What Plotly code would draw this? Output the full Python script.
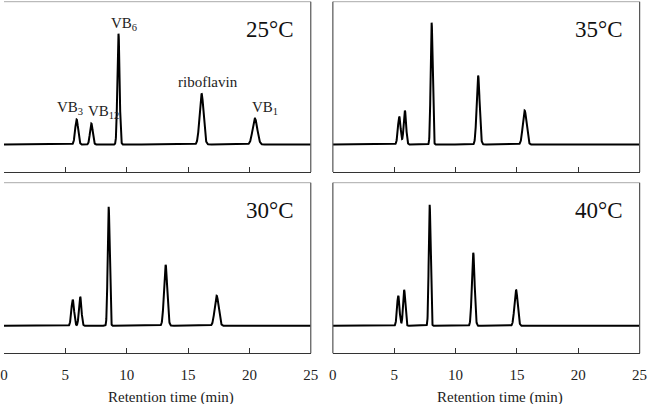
import numpy as np
import plotly.graph_objects as go

# ---- data ----
temps = ["25°C", "35°C", "30°C", "40°C"]
compounds = ["VB3", "VB12", "VB6", "riboflavin", "VB1"]

rt_25 = [5.92, 7.12, 9.33, 16.10, 20.45]
h_25 = [25, 21, 111, 51, 26]
w_25 = [0.12, 0.11, 0.09, 0.16, 0.19]

rt_35 = [5.41, 5.87, 8.05, 11.84, 15.63]
h_35 = [28, 34, 122, 69, 34]
w_35 = [0.11, 0.10, 0.08, 0.12, 0.15]

rt_30 = [5.60, 6.21, 8.53, 13.17, 17.33]
h_30 = [26, 29, 119, 61, 30]
w_30 = [0.11, 0.10, 0.08, 0.13, 0.16]

rt_40 = [5.33, 5.81, 7.89, 11.44, 14.93]
h_40 = [30, 36, 121, 73, 36]
w_40 = [0.10, 0.09, 0.075, 0.11, 0.13]

x_ticks = [0, 5, 10, 15, 20, 25]

panels = [
    (rt_25, h_25, w_25, "25°C"),
    (rt_35, h_35, w_35, "35°C"),
    (rt_30, h_30, w_30, "30°C"),
    (rt_40, h_40, w_40, "40°C"),
]

W, H = 654, 404
xdoms = [[0.0, 312.5 / W], [335 / W, 647.5 / W]]
ydoms = [[1 - 172 / H, 1 - 1.7 / H], [1 - 353.3 / H, 1 - 182.7 / H]]
yrange = [-27.5, 143]

t = np.linspace(0, 25, 2501)

fig = go.Figure()
layout = dict(width=W, height=H, margin=dict(l=0, r=0, t=0, b=0),
              paper_bgcolor="white", plot_bgcolor="white", showlegend=False,
              font=dict(family="Liberation Serif", color="#222"))
annotations = []
shapes = []
serif = "Liberation Serif"

for i, (rt, hh, ww, label) in enumerate(panels):
    row, col = divmod(i, 2)
    n = i + 1
    xa = "x" if n == 1 else f"x{n}"
    ya = "y" if n == 1 else f"y{n}"
    sig = np.zeros_like(t)
    for r, h, w in zip(rt, hh, ww):
        sig += h * np.exp(-0.5 * ((t - r) / w) ** 2)
    fig.add_trace(go.Scatter(x=t, y=sig, mode="lines", xaxis=xa, yaxis=ya,
                             line=dict(color="black", width=2), hoverinfo="skip"))
    xkey = "xaxis" if n == 1 else f"xaxis{n}"
    ykey = "yaxis" if n == 1 else f"yaxis{n}"
    layout[xkey] = dict(domain=xdoms[col], range=[0, 25], anchor=ya,
                        tickvals=x_ticks, ticks="inside", ticklen=5,
                        tickcolor="#333", showline=True, linecolor="#333",
                        linewidth=1.2, showgrid=False, zeroline=False,
                        showticklabels=(row == 1), ticklabelstandoff=8,
                        tickfont=dict(family=serif, size=15, color="#222"))
    layout[ykey] = dict(domain=ydoms[row], range=yrange, anchor=xa,
                        showticklabels=False, ticks="", showgrid=False,
                        zeroline=False, showline=False)
    # box borders
    xr = f"{xa} domain"
    yr = f"{ya} domain"
    shapes.append(dict(type="line", xref=xr, yref=yr, x0=0, x1=1, y0=1, y1=1,
                       line=dict(color="#aaa", width=1)))
    shapes.append(dict(type="line", xref=xr, yref=yr, x0=1, x1=1, y0=0, y1=1,
                       line=dict(color="#555", width=1.2)))
    if col == 1:
        shapes.append(dict(type="line", xref=xr, yref=yr, x0=0, x1=0, y0=0, y1=1,
                           line=dict(color="#555", width=1.2)))
    # temperature label
    annotations.append(dict(text=label, xref=xr, yref=yr, x=0.951,
                            y=0.838, xanchor="right", yanchor="middle",
                            showarrow=False,
                            font=dict(family=serif, size=23, color="#111")))
    if row == 1:
        annotations.append(dict(text="Retention time (min)", xref=xr,
                                yref="paper", x=0.545, y=1 - 397.5 / H,
                                xanchor="center", yanchor="middle",
                                showarrow=False,
                                font=dict(family=serif, size=15, color="#222")))

# peak labels (25°C panel)
peak_labels = ["VB<sub>3</sub>", "VB<sub>12</sub>", "VB<sub>6</sub>",
               "riboflavin", "VB<sub>1</sub>"]
label_x = [6.56, 6.66, 8.59, 16.64, 20.05]
label_y = [37, 33, 121, 63, 37]
label_anchor = ["right", "left", "left", "center", "left"]
for txt, lx, ly, anc in zip(peak_labels, label_x, label_y, label_anchor):
    annotations.append(dict(text=txt, x=lx, y=ly, xref="x", yref="y",
                            xanchor=anc, yanchor="middle", showarrow=False,
                            font=dict(family=serif, size=15, color="#222")))

layout["annotations"] = annotations
layout["shapes"] = shapes
fig.update_layout(**layout)
fig.write_html("out.html")
